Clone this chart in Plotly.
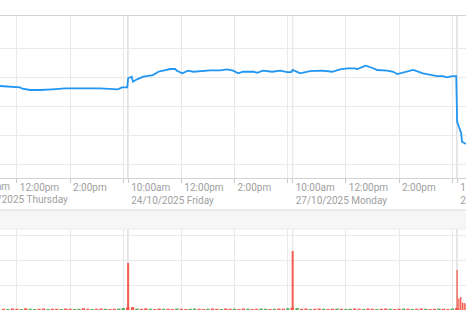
import numpy as np
import pandas as pd
import plotly.graph_objects as go

# ---------------- data ----------------
SESSION_LEN = 371  # trading minutes per day shown (10:00 -> ~16:11)

day_dates = ["23/10/2025", "24/10/2025", "27/10/2025", "28/10/2025"]
day_names = ["Thursday", "Friday", "Monday", "Tuesday"]

tick_times = ["10:00", "12:00", "14:00", "16:00"]
tick_labels = ["10:00am", "12:00pm", "2:00pm", ""]

view_start = (0, "11:22")
view_end = (3, "10:20")

# price line (day index, time, price)
thu_times = ["11:22", "12:07", "12:12", "12:30", "12:52", "13:15", "13:20", "13:49",
             "14:23", "15:08", "15:48", "15:57", "16:09"]
thu_prices = [1.6345, 1.6322, 1.6298, 1.6276, 1.6276, 1.6276, 1.6288, 1.6305,
              1.6310, 1.6305, 1.6288, 1.6322, 1.6322]

fri_times = ["10:00", "10:08", "10:11", "10:20", "10:34", "10:56", "11:08", "11:19",
             "11:35", "11:46", "11:50", "12:02", "12:13", "12:15", "12:27", "12:42",
             "13:05", "13:28", "13:43", "13:57", "14:08", "14:19", "14:42", "14:51",
             "15:04", "15:25", "15:43", "15:59", "16:08"]
fri_prices = [1.6478, 1.6505, 1.6419, 1.6460, 1.6505, 1.6534, 1.6591, 1.6609,
              1.6638, 1.6638, 1.6609, 1.6564, 1.6591, 1.6609, 1.6591, 1.6603,
              1.6615, 1.6615, 1.6633, 1.6609, 1.6564, 1.6591, 1.6591, 1.6574,
              1.6609, 1.6591, 1.6609, 1.6586, 1.6586]

mon_times = ["10:00", "10:17", "10:39", "11:07", "11:29", "11:47", "12:03", "12:21",
             "12:25", "12:37", "12:44", "12:59", "13:11", "13:33", "13:47", "13:56",
             "14:14", "14:32", "14:54", "15:10", "15:26", "15:39", "15:48", "16:00",
             "16:09"]
mon_prices = [1.6621, 1.6564, 1.6603, 1.6609, 1.6591, 1.6633, 1.6650, 1.6650,
              1.6633, 1.6678, 1.6695, 1.6660, 1.6621, 1.6609, 1.6591, 1.6552,
              1.6591, 1.6621, 1.6564, 1.6534, 1.6517, 1.6517, 1.6495, 1.6517,
              1.6517]

tue_times = ["10:00", "10:04", "10:09", "10:11", "10:20"]
tue_prices = [1.5729, 1.5643, 1.5534, 1.5384, 1.5345]

# volume (millions), 10-minute bars; u = up, d = down
thu_vol_start = "11:30"
thu_vol = [0.05, 0.04, 0.06, 0.05, 0.04, 0.07, 0.05, 0.04, 0.05, 0.06, 0.04, 0.05,
           0.05, 0.04, 0.06, 0.05, 0.04, 0.05, 0.07, 0.05, 0.04, 0.05, 0.06, 0.05,
           0.04, 0.05, 0.06, 0.08, 0.10]
thu_dir = "dudduduudduddudduudduddudduud"

fri_vol_start = "10:00"
fri_vol = [1.88, 0.12, 0.06, 0.05, 0.07, 0.05, 0.04, 0.06, 0.05, 0.05, 0.04, 0.06,
           0.05, 0.04, 0.05, 0.06, 0.05, 0.04, 0.05, 0.06, 0.05, 0.04, 0.06, 0.05,
           0.05, 0.04, 0.06, 0.05, 0.04, 0.05, 0.06, 0.05, 0.04, 0.05, 0.06, 0.05,
           0.07, 0.09]
fri_dir = "dduddudduddudduudduddudduddudduududdud"

mon_vol_start = "10:00"
mon_vol = [2.36, 0.08, 0.05, 0.06, 0.04, 0.05, 0.06, 0.05, 0.04, 0.05, 0.06, 0.05,
           0.04, 0.05, 0.06, 0.05, 0.04, 0.06, 0.05, 0.04, 0.05, 0.06, 0.05, 0.04,
           0.05, 0.06, 0.05, 0.04, 0.05, 0.06, 0.05, 0.04, 0.05, 0.06, 0.05, 0.04,
           0.06, 0.08]
mon_dir = "dudduddudduduudduddudduddududdudduddud"

tue_vol_times = ["10:00", "10:04", "10:08", "10:12", "10:16", "10:20"]
tue_vol = [1.60, 0.46, 0.52, 0.30, 0.28, 0.26]
tue_dir = "dddddd"


# ---------------- helpers ----------------
def to_x(day, hhmm):
    h, m = map(int, hhmm.split(":"))
    return day * SESSION_LEN + (h * 60 + m - 600)


def reg_times(start, n):
    t = pd.date_range("2000-01-01 " + start, periods=n, freq="10min")
    return [x.strftime("%H:%M") for x in t]


# price x/y
px, py = [], []
for d, (ts, ps) in enumerate([(thu_times, thu_prices), (fri_times, fri_prices),
                              (mon_times, mon_prices), (tue_times, tue_prices)]):
    px += [to_x(d, t) for t in ts]
    py += ps

# volume x/y/colour/width
vol_sets = [
    (reg_times(thu_vol_start, len(thu_vol)), thu_vol, thu_dir),
    (reg_times(fri_vol_start, len(fri_vol)), fri_vol, fri_dir),
    (reg_times(mon_vol_start, len(mon_vol)), mon_vol, mon_dir),
    (tue_vol_times, tue_vol, tue_dir),
]
UP = "rgba(67,160,71,0.85)"
DOWN = "rgba(244,67,54,0.85)"
vx, vy, vc, vw = [], [], [], []
for d, (ts, vs, ds) in enumerate(vol_sets):
    xs = np.array([to_x(d, t) for t in ts], dtype=float)
    gaps = np.diff(xs) if len(xs) > 1 else np.array([10.0])
    gaps = np.append(gaps, gaps[-1])
    for i, (xv, v) in enumerate(zip(xs, vs)):
        w = 0.75 * gaps[i]
        if v > 1:
            w = min(w, 4.5)
        vx.append(xv)
        vy.append(v)
        vw.append(w)
        vc.append(UP if ds[i % len(ds)] == "u" else DOWN)

x0 = to_x(*view_start)
x1 = to_x(*view_end)

tickvals, ticktext = [], []
for d in range(4):
    for t, lab in zip(tick_times, tick_labels):
        tickvals.append(to_x(d, t))
        if t == "10:00":
            ticktext.append(f"{lab}<br>{day_dates[d]} {day_names[d]}")
        else:
            ticktext.append(lab)

# ---------------- figure ----------------
W, H = 466, 311
MT, MB = 16, 1
plot_h = H - MT - MB
top_bottom_px = 178
low_top_px = 229
band_top_px, band_bot_px = 210, 229


def pfrac(ypx):
    return (H - MB - ypx) / plot_h


GRID = "#e9e9e9"
SEP = "#b5b5b5"
TXT = "#a0a0a0"
FONT = "Roboto"

fig = go.Figure()
fig.add_trace(go.Scatter(x=px, y=py, mode="lines",
                         line=dict(color="#2196f3", width=1.8),
                         xaxis="x", yaxis="y", hoverinfo="skip"))
fig.add_trace(go.Bar(x=vx, y=vy, width=vw, marker=dict(color=vc, line=dict(width=0)),
                     xaxis="x2", yaxis="y2", hoverinfo="skip"))

top_dom = [pfrac(top_bottom_px), 1.0]
low_dom = [0.0, pfrac(low_top_px)]

fig.update_layout(
    width=W, height=H,
    margin=dict(l=0, r=0, t=MT, b=MB, pad=0),
    paper_bgcolor="white", plot_bgcolor="white",
    showlegend=False,
    font=dict(family=FONT, size=10, color=TXT),
    xaxis=dict(domain=[0, 1], range=[x0, x1], anchor="y",
               tickvals=tickvals, ticktext=ticktext, tickangle=0,
               ticklabelposition="outside right", ticklabeloverflow="allow",
               ticklabelshift=2,
               ticks="outside", ticklen=4, tickcolor="#c8c8c8",
               showgrid=True, gridcolor=GRID, gridwidth=1,
               showline=True, linecolor="#d3d3d3", linewidth=1, mirror=True,
               zeroline=False, automargin=False,
               tickfont=dict(family=FONT, size=10, color=TXT)),
    yaxis=dict(domain=top_dom, range=[1.4759, 1.7552], anchor="x",
               tickvals=[1.50, 1.55, 1.60, 1.65, 1.70],
               showticklabels=False, showgrid=True, gridcolor=GRID,
               zeroline=False, ticks=""),
    xaxis2=dict(domain=[0, 1], range=[x0, x1], anchor="y2", matches="x",
                tickvals=tickvals, showticklabels=False, ticks="",
                showgrid=True, gridcolor=GRID, zeroline=False, showline=False),
    yaxis2=dict(domain=low_dom, range=[0, 3.24], anchor="x2",
                tickvals=[0, 1, 2, 3], showticklabels=False, showgrid=True,
                gridcolor=GRID, zeroline=False, ticks=""),
)

shapes = []
# band between panels
shapes.append(dict(type="rect", xref="paper", yref="paper", x0=0, x1=1,
                   y0=pfrac(band_bot_px), y1=pfrac(band_top_px),
                   fillcolor="#f6f6f6", line=dict(width=0), layer="below"))
shapes.append(dict(type="line", xref="paper", yref="paper", x0=0, x1=1,
                   y0=pfrac(band_top_px), y1=pfrac(band_top_px),
                   line=dict(color="#dadada", width=1)))
shapes.append(dict(type="line", xref="paper", yref="paper", x0=0, x1=1,
                   y0=pfrac(band_bot_px), y1=pfrac(band_bot_px),
                   line=dict(color="#ececec", width=1)))
# day separators
for d in range(1, 4):
    xv = to_x(d, "10:00")
    shapes.append(dict(type="line", xref="x", yref="y domain", x0=xv, x1=xv, y0=0, y1=1,
                       line=dict(color=SEP, width=1), layer="below"))
    shapes.append(dict(type="line", xref="x2", yref="y2 domain", x0=xv, x1=xv, y0=0, y1=1,
                       line=dict(color=SEP, width=1), layer="below"))
fig.update_layout(shapes=shapes)

# labels for the first (off-screen) day start, drawn like its tick label
thu_xp = (to_x(0, "10:00") - x0) / (x1 - x0)
for txt, ypx in [("10:00am", 186), (f"{day_dates[0]} {day_names[0]}", 199)]:
    fig.add_annotation(x=thu_xp, xref="paper", y=pfrac(ypx), yref="paper",
                       text=txt, showarrow=False, xanchor="left", yanchor="middle",
                       align="left", xshift=5,
                       font=dict(family=FONT, size=10, color=TXT))

fig.write_html("out.html")
